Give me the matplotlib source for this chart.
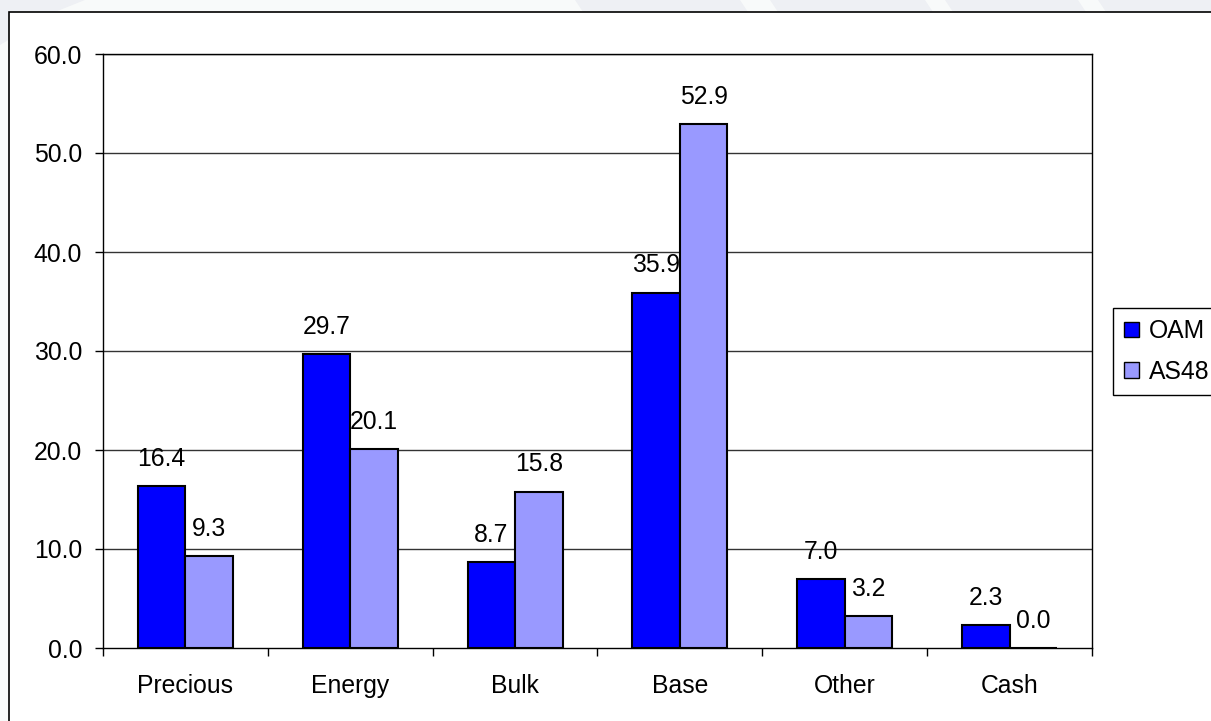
import matplotlib
matplotlib.use("Agg")
import matplotlib.pyplot as plt
from matplotlib.patches import Rectangle, Patch, Polygon

plt.rcParams['font.family'] = ['Liberation Sans', 'DejaVu Sans']

categories = ["Precious", "Energy", "Bulk", "Base", "Other", "Cash"]
oam = [16.4, 29.7, 8.7, 35.9, 7.0, 2.3]
as48 = [9.3, 20.1, 15.8, 52.9, 3.2, 0.0]
series_names = ["OAM", "AS48"]
yticks = [0, 10, 20, 30, 40, 50, 60]

W, H = 1211, 721
fig = plt.figure(figsize=(W / 100, H / 100), dpi=100)
fig.patch.set_facecolor("#f8fafa")

# faint grey slanted bands of the page background (pixel coords -> figure)
bands = [(0, 55, 0, 45), (575, 740, 12, 12), (770, 925, 12, 12),
         (945, 1078, 12, 12), (1098, 1215, 12, 12)]
for x0, x1, _, depth in bands:
    pts = [(x0, 0), (x1, 0), (x1 + 8, depth), (x0 + 8, depth)]
    if x0 == 0:
        pts = [(0, 0), (x1 + 30, 0), (x1, 12), (0, depth)]
    fig.add_artist(Polygon([(px / W, 1 - py / H) for px, py in pts],
                           closed=True, transform=fig.transFigure,
                           facecolor="#eef0f4", edgecolor="none", zorder=-10))

# white chart frame, kept behind the axes
frame = Rectangle((9 / W, -0.1), 1.2, (H - 12) / H + 0.1,
                  transform=fig.transFigure, facecolor="white",
                  edgecolor="black", linewidth=1.2, zorder=-5)
fig.add_artist(frame)

ax = fig.add_axes([103 / W, (H - 648) / H, (1092 - 103) / W, (648 - 54) / H])
ax.set_facecolor("white")

fs = 17.8
bw = 0.288
x = list(range(len(categories)))
b1 = ax.bar([i - bw / 2 for i in x], oam, width=bw, color="#0000ff",
            edgecolor="black", linewidth=1.5, zorder=3)
b2 = ax.bar([i + bw / 2 for i in x], as48, width=bw, color="#9999ff",
            edgecolor="black", linewidth=1.5, zorder=3)

for bars, vals in ((b1, oam), (b2, as48)):
    for r, v in zip(bars, vals):
        ax.annotate("%.1f" % v, (r.get_x() + r.get_width() / 2, v),
                    xytext=(0, 14.5), textcoords="offset points",
                    ha="center", va="baseline", fontsize=fs, zorder=4)

ax.set_xlim(-0.5, len(categories) - 0.5)
ax.set_ylim(0, 60)
ax.set_yticks(yticks)
ax.set_yticklabels(["%.1f" % t for t in yticks], fontsize=fs)
for t in yticks[1:]:
    ax.axhline(t, color="#333333", linewidth=1, zorder=1)

ax.set_xticks(x)
ax.set_xticklabels(categories, fontsize=fs)
ax.tick_params(axis="x", which="major", length=0, pad=19)
ax.set_xticks([i - 0.5 for i in range(len(categories) + 1)], minor=True)
ax.tick_params(axis="x", which="minor", length=6, width=1, direction="out")
ax.tick_params(axis="y", length=6, width=1, direction="out", pad=9)

for s in ax.spines.values():
    s.set_color("black")
    s.set_linewidth(1)

handles = [Patch(facecolor="#0000ff", edgecolor="black", linewidth=1),
           Patch(facecolor="#9999ff", edgecolor="black", linewidth=1)]
fig.legend(handles, series_names, loc="upper left",
           bbox_to_anchor=(1113 / W, (H - 308) / H),
           bbox_transform=fig.transFigure, fontsize=fs, frameon=True,
           fancybox=False, edgecolor="black", framealpha=1,
           handlelength=0.6, handleheight=0.6, handletextpad=0.42,
           labelspacing=0.68, borderpad=0.45, borderaxespad=0)

fig.savefig("out.png", dpi=100, facecolor=fig.get_facecolor())
